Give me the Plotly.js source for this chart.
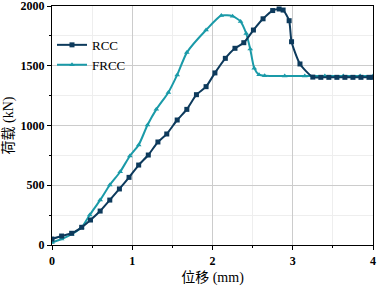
<!DOCTYPE html>
<html>
<head>
<meta charset="utf-8">
<script src="https://cdn.plot.ly/plotly-3.0.1.min.js"></script>
<style>
  html, body { margin: 0; padding: 0; background: #fff; }
  #chart { width: 377px; height: 288px; }
</style>
</head>
<body>
<div id="chart"></div>
<script>
// values
const rccX = [0, 0.12, 0.245, 0.37, 0.48, 0.6, 0.72, 0.84, 0.96, 1.08, 1.2, 1.32, 1.43, 1.56, 1.68, 1.8, 1.92, 2.03, 2.16, 2.28, 2.39, 2.51, 2.63, 2.75, 2.83, 2.88, 2.955, 2.985, 3.09, 3.25, 3.35, 3.45, 3.55, 3.65, 3.75, 3.85, 3.95, 4.0];
const rccY = [50, 75, 98, 148, 209, 284, 376, 469, 566, 669, 753, 862, 929, 1046, 1135, 1258, 1325, 1440, 1562, 1646, 1693, 1799, 1893, 1962, 1975, 1966, 1877, 1701, 1515, 1405, 1403, 1403, 1403, 1403, 1403, 1403, 1403, 1403];

const frccX = [0, 0.12, 0.245, 0.37, 0.47, 0.6, 0.72, 0.85, 0.97, 1.08, 1.19, 1.3, 1.45, 1.56, 1.68, 1.92, 2.11, 2.25, 2.35, 2.42, 2.47, 2.52, 2.58, 2.65, 2.9, 3.15, 3.4, 3.63, 3.84, 4.0];
const frccY = [20, 50, 90, 148, 251, 376, 502, 613, 745, 837, 1004, 1135, 1277, 1423, 1610, 1799, 1920, 1915, 1870, 1770, 1640, 1480, 1425, 1416, 1414, 1414, 1414, 1415, 1415, 1415];

const seriesNames = ['RCC', 'FRCC'];

const serif = '"Times New Roman", "Liberation Serif", "Noto Sans CJK SC", serif';

const frcc = {
    x: frccX, y: frccY, name: seriesNames[1],
    mode: 'lines+markers', type: 'scatter',
    line: { color: '#1a9aa8', width: 2, shape: 'spline', smoothing: 0.6 },
    marker: { symbol: 'triangle-up', size: 5, color: '#1a9aa8' }
};

const rcc = {
    x: rccX, y: rccY, name: seriesNames[0],
    mode: 'lines+markers', type: 'scatter',
    line: { color: '#0d3a5c', width: 2, shape: 'spline', smoothing: 0.6 },
    marker: { symbol: 'square', size: 5, color: '#0d3a5c' }
};

const layout = {
    width: 377, height: 288,
    margin: { l: 52, r: 4, t: 6, b: 43 },
    paper_bgcolor: '#fff', plot_bgcolor: '#fff',
    font: { family: serif, color: '#000', size: 12 },
    showlegend: true,
    legend: {
        x: 0.0, y: 0.9, xanchor: 'left', yanchor: 'top',
        traceorder: 'reversed', bgcolor: 'rgba(0,0,0,0)',
        font: { family: serif, size: 13, color: '#000' },
        itemwidth: 30, tracegroupgap: 0
    },
    xaxis: {
        range: [0, 4], dtick: 1, tick0: 0,
        showline: true, linecolor: '#000', linewidth: 1.2, mirror: true,
        ticks: 'outside', ticklen: 4, tickcolor: '#000',
        showgrid: true, gridcolor: '#cccccc', gridwidth: 1,
        zeroline: false, ticklabeloverflow: 'allow',
        minor: { dtick: 0.5, ticks: 'outside', ticklen: 2, tickcolor: '#000', showgrid: true, gridcolor: '#eeeeee' },
        tickfont: { family: serif, size: 12, weight: 'bold' },
        title: { text: '位移 (mm)', font: { family: serif, size: 14 }, standoff: 5 }
    },
    yaxis: {
        range: [0, 2000], dtick: 500, tick0: 0,
        showline: true, linecolor: '#000', linewidth: 1.2, mirror: true,
        ticks: 'outside', ticklen: 4, tickcolor: '#000',
        showgrid: true, gridcolor: '#cccccc', gridwidth: 1,
        zeroline: false, ticklabeloverflow: 'allow',
        minor: { dtick: 250, ticks: 'outside', ticklen: 2, tickcolor: '#000', showgrid: true, gridcolor: '#eeeeee' },
        tickfont: { family: serif, size: 12, weight: 'bold' },
        title: { text: '荷载 (kN)', font: { family: serif, size: 14 }, standoff: 3 }
    }
};

Plotly.newPlot('chart', [frcc, rcc], layout, { displayModeBar: false, staticPlot: true });
</script>
</body>
</html>
